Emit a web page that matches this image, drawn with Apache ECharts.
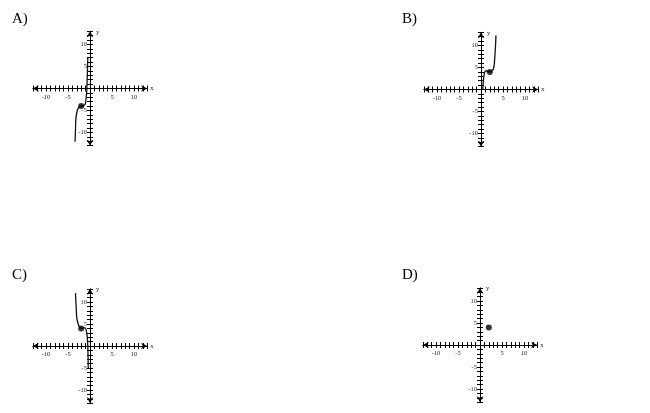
<!DOCTYPE html>
<html>
<head>
<meta charset="utf-8">
<script src="https://cdn.jsdelivr.net/npm/echarts@6/dist/echarts.min.js"></script>
<style>html,body{margin:0;padding:0;background:#fff}#c{width:650px;height:413px}</style>
</head>
<body>
<div id="c"></div>
<script>
// Panel labels
var panelLabels = ['A)', 'B)', 'C)', 'D)'];
// Tick labels shown on both axes
var labeledTicks = [-10, -5, 5, 10];
var axisMin = -13, axisMax = 13, tickStep = 1;

// Curves
var curveA = [[-3.4,-12.1],[-3.3,-9.5],[-3.2,-6.8],[-2.9,-5.0],[-2.7,-4.5],[-2.3,-4.1],[-2,-4],[-1.5,-3.9],[-1.1,-3.6],[-0.9,-2.3],[-0.75,-0.8],[-0.65,2],[-0.55,5],[-0.5,7]];
var curveB = [[0.4,0],[0.55,2],[0.75,3.6],[1.1,4.2],[1.5,4.2],[2,4],[2.5,4.3],[2.8,4.6],[3.0,5.6],[3.15,7.5],[3.3,10],[3.4,12.3]];
var curveC = [[-3.3,12],[-3.15,9],[-3.0,6.4],[-2.6,4.7],[-2.3,4.3],[-2,4],[-1.5,4.1],[-1.1,4.1],[-0.75,3.0],[-0.55,1],[-0.45,-2],[-0.4,-5]];
var curveD = [];
var pointA = [[-2,-4]];
var pointB = [[2,4]];
var pointC = [[-2,4]];
var pointD = [[2,4]];

var curves = [curveA, curveB, curveC, curveD];
var points = [pointA, pointB, pointC, pointD];

// layout
var origins = [[90, 88.5], [481, 89.5], [90, 346], [480, 345]];
var labelPos = [[12, 12], [402, 12], [12, 268], [402, 268]];
var pxPerUnit = 4.4;
var half = (axisMax - axisMin) / 2 * pxPerUnit;

var serif = '"Liberation Serif", "DejaVu Serif", serif';
function fmt(v) { return labeledTicks.indexOf(v) >= 0 ? String(v) : ''; }

var grids = [], xAxes = [], yAxes = [], series = [], titles = [];
for (var i = 0; i < 4; i++) {
  var o = origins[i];
  grids.push({ left: o[0] - half, top: o[1] - half, width: 2 * half, height: 2 * half, containLabel: false });
  var lineStyle = { color: '#000', width: 1 };
  // x axes
  xAxes.push({
    type: 'value', gridIndex: i, min: axisMin, max: axisMax, interval: tickStep, position: 'bottom', offset: -half,
    splitLine: { show: false },
    axisLine: { onZero: false, lineStyle: lineStyle, symbol: ['arrow', 'arrow'], symbolSize: [5, 6] },
    axisTick: { show: true, inside: false, length: 3, lineStyle: lineStyle },
    axisLabel: { formatter: fmt, fontSize: 6.5, fontFamily: serif, color: '#222', margin: 5 },
    name: 'x', nameLocation: 'end', nameGap: 3,
    nameTextStyle: { fontSize: 6.5, fontFamily: serif, color: '#222', padding: [10, 0, 0, 0] }
  });
  xAxes.push({
    type: 'value', gridIndex: i, min: axisMin, max: axisMax, interval: tickStep, position: 'bottom', offset: -half,
    splitLine: { show: false },
    axisLine: { onZero: false, show: false },
    axisTick: { show: true, inside: true, length: 3, lineStyle: lineStyle },
    axisLabel: { show: false }
  });
  yAxes.push({
    type: 'value', gridIndex: i, min: axisMin, max: axisMax, interval: tickStep, position: 'left', offset: -half,
    splitLine: { show: false },
    axisLine: { onZero: false, lineStyle: lineStyle, symbol: ['arrow', 'arrow'], symbolSize: [5, 6] },
    axisTick: { show: true, inside: false, length: 3, lineStyle: lineStyle },
    axisLabel: { formatter: fmt, fontSize: 6.5, fontFamily: serif, color: '#222', margin: 3 },
    name: 'y', nameLocation: 'end', nameGap: -4,
    nameTextStyle: { fontSize: 6.5, fontFamily: serif, color: '#222', align: 'left', padding: [0, 0, 0, 6] }
  });
  yAxes.push({
    type: 'value', gridIndex: i, min: axisMin, max: axisMax, interval: tickStep, position: 'left', offset: -half,
    splitLine: { show: false },
    axisLine: { onZero: false, show: false },
    axisTick: { show: true, inside: true, length: 3, lineStyle: lineStyle },
    axisLabel: { show: false }
  });
  if (curves[i].length) {
    series.push({
      type: 'line', xAxisIndex: 2 * i, yAxisIndex: 2 * i, data: curves[i], smooth: 0.3,
      showSymbol: false, lineStyle: { color: '#111', width: 1.3 }, silent: true, z: 3
    });
  }
  series.push({
    type: 'scatter', xAxisIndex: 2 * i, yAxisIndex: 2 * i, data: points[i],
    symbol: 'circle', symbolSize: 6, itemStyle: { color: '#000' }, silent: true, z: 4
  });
  titles.push({
    text: panelLabels[i], left: labelPos[i][0], top: labelPos[i][1], padding: 0,
    textStyle: { fontSize: 15, fontWeight: 'normal', fontFamily: serif, color: '#000' }
  });
}

var chart = echarts.init(document.getElementById('c'), null, { renderer: 'canvas' });
chart.setOption({
  animation: false,
  backgroundColor: '#fff',
  title: titles,
  grid: grids,
  xAxis: xAxes,
  yAxis: yAxes,
  series: series
});
</script>
</body>
</html>
